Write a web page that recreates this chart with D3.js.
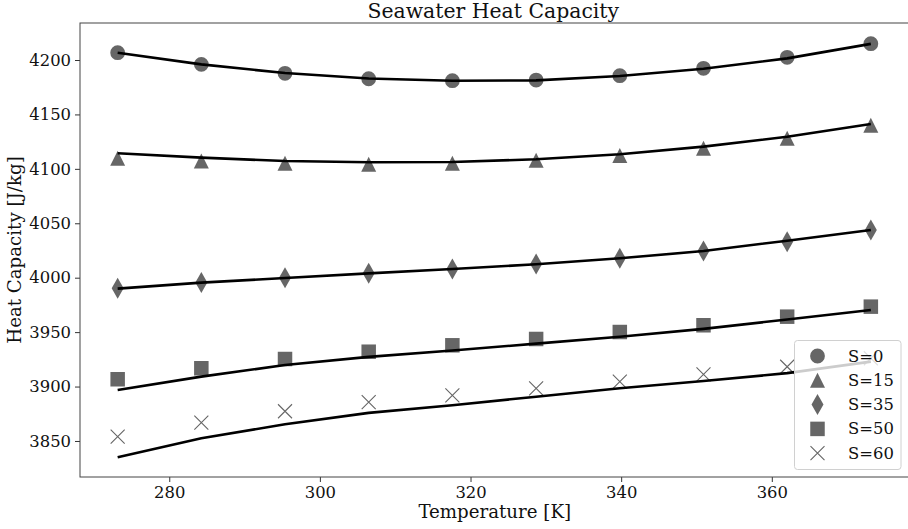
<!DOCTYPE html>
<html><head><meta charset="utf-8">
<script src="https://cdn.jsdelivr.net/npm/d3@7"></script>
<style>body{margin:0;background:#fff}svg{display:block}text{font-family:"DejaVu Serif",serif;fill:#111}</style>
</head><body><svg id="c" width="908" height="529"></svg>
<script>
const temps = [273.15, 284.26, 295.37, 306.48, 317.59, 328.71, 339.82, 350.93, 362.04, 373.15];
const labels = ["S=0", "S=15", "S=35", "S=50", "S=60"];
const measS0  = [4206.7, 4196.0, 4187.8, 4182.8, 4181.0, 4181.6, 4185.6, 4192.4, 4202.5, 4215.0];
const measS15 = [4109.7, 4107.2, 4105.1, 4104.3, 4105.1, 4107.9, 4112.3, 4119.0, 4128.2, 4140.1];
const measS35 = [3990.3, 3995.5, 4000.0, 4004.0, 4008.0, 4012.6, 4017.8, 4024.5, 4033.0, 4043.8];
const measS50 = [3906.7, 3916.8, 3925.3, 3932.0, 3937.9, 3943.7, 3950.1, 3956.3, 3964.2, 3973.4];
const measS60 = [3854.0, 3866.8, 3877.3, 3885.6, 3891.9, 3898.4, 3904.5, 3911.2, 3918.2, 3926.0];
const fitS0  = [4206.7, 4196.0, 4188.0, 4183.0, 4181.0, 4181.3, 4185.3, 4192.0, 4201.5, 4214.8];
const fitS15 = [4114.3, 4110.3, 4107.2, 4106.0, 4106.3, 4108.8, 4113.4, 4120.4, 4129.5, 4141.2];
const fitS35 = [3990.0, 3995.5, 3999.7, 4004.0, 4008.0, 4012.3, 4017.8, 4024.5, 4034.0, 4043.8];
const fitS50 = [3896.9, 3909.1, 3919.8, 3927.3, 3933.1, 3939.4, 3945.8, 3953.0, 3961.6, 3970.3];
const fitS60 = [3835.0, 3852.5, 3865.3, 3875.8, 3882.8, 3890.7, 3898.4, 3905.1, 3912.3, 3922.9];
const xTicks = [280, 300, 320, 340, 360];
const yTicks = [3850, 3900, 3950, 4000, 4050, 4100, 4150, 4200];

const meas = [measS0, measS15, measS35, measS50, measS60];
const fits = [fitS0, fitS15, fitS35, fitS50, fitS60];
const shapes = ["circle", "triangle", "diamond", "square", "cross"];

const L = 80, R = 908.5, T = 23, B = 477;
const x = d3.scaleLinear().domain([268.15, 378.15]).range([L, R]);
const y = d3.scaleLinear().domain([3816.9, 4234]).range([B, T]);
const svg = d3.select("#c");
const mk = "#666666";

function markerPath(shape) {
  if (shape === "circle") return d3.symbol(d3.symbolCircle, Math.PI * 7.4 * 7.4)();
  if (shape === "square") return d3.symbol(d3.symbolSquare, 14.5 * 14.5)();
  if (shape === "triangle") { const h = 7.5; return `M0,${-h}L${h},${h}L${-h},${h}Z`; }
  if (shape === "diamond") { return "M0,-10.5L6,0L0,10.5L-6,0Z"; }
  if (shape === "cross") { const h = 7; return `M${-h},${-h}L${h},${h}M${-h},${h}L${h},${-h}`; }
}
function drawMarker(g, shape, cx, cy) {
  const p = g.append("path").attr("d", markerPath(shape)).attr("transform", `translate(${cx},${cy})`);
  if (shape === "cross") p.attr("fill", "none").attr("stroke", mk).attr("stroke-width", 1.1);
  else p.attr("fill", mk);
}

const plot = svg.append("g");
const line = d3.line().x((d, i) => x(temps[i])).y(d => y(d));
meas.forEach((arr, s) => {
  arr.forEach((v, i) => drawMarker(plot, shapes[s], x(temps[i]), y(v)));
  plot.append("path").attr("d", line(fits[s])).attr("fill", "none").attr("stroke", "#000").attr("stroke-width", 2.6).attr("stroke-linejoin", "round");
});

const xa = svg.append("g").attr("transform", `translate(0,${B})`)
  .call(d3.axisBottom(x).tickValues(xTicks).tickFormat(d3.format("d")).tickSize(5).tickPadding(4));
const ya = svg.append("g").attr("transform", `translate(${L},0)`)
  .call(d3.axisLeft(y).tickValues(yTicks).tickFormat(d3.format("d")).tickSize(5).tickPadding(4));
[xa, ya].forEach(a => {
  a.select(".domain").remove();
  a.selectAll(".tick line").attr("stroke", "#333").attr("stroke-width", 1);
  a.selectAll(".tick text").attr("font-family", "DejaVu Serif").attr("font-size", 16.4).attr("fill", "#111");
});
svg.append("rect").attr("x", L).attr("y", T).attr("width", R - L).attr("height", B - T)
  .attr("fill", "none").attr("stroke", "#444").attr("stroke-width", 1);

svg.append("text").attr("x", (L + R) / 2 - 1).attr("y", 18).attr("text-anchor", "middle").attr("font-size", 20.4).text("Seawater Heat Capacity");
svg.append("text").attr("x", (L + R) / 2 + 0.5).attr("y", 518).attr("text-anchor", "middle").attr("font-size", 18.2).text("Temperature [K]");
svg.append("text").attr("transform", `translate(21,${(T + B) / 2}) rotate(-90)`).attr("text-anchor", "middle").attr("font-size", 18.2).text("Heat Capacity [J/kg]");

const lg = svg.append("g");
lg.append("rect").attr("x", 794.5).attr("y", 340.5).attr("width", 106.5).attr("height", 129).attr("rx", 3)
  .attr("fill", "#fff").attr("fill-opacity", 0.8).attr("stroke", "#d0d0d0").attr("stroke-width", 1);
labels.forEach((lab, i) => {
  const cy = 356 + i * 24.3;
  drawMarker(lg, shapes[i], 817.5, cy);
  lg.append("text").attr("x", 848).attr("y", cy + 5.5).attr("font-size", 16.4).text(lab);
});
</script></body></html>
